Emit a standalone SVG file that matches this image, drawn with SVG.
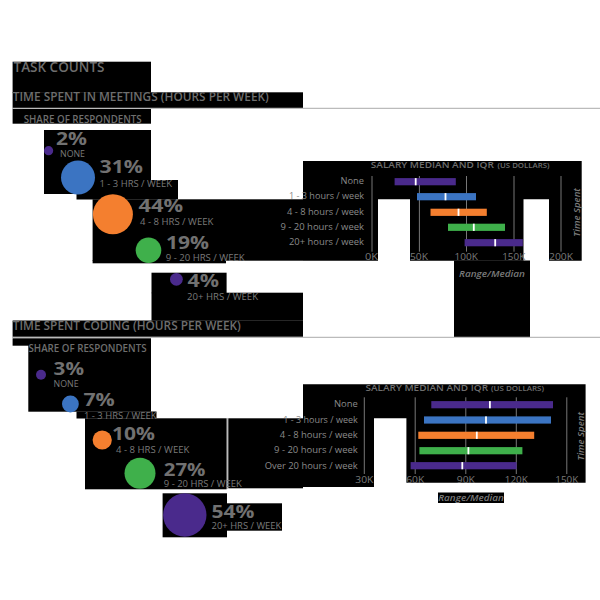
<svg xmlns="http://www.w3.org/2000/svg" width="600" height="600" viewBox="0 0 600 600">
<defs>
<style>
text{font-family:"Open Sans","Liberation Sans",sans-serif;}
.h{font-weight:600;fill:#6e6e6e;}
.pct{font-weight:700;fill:#717171;font-size:18.5px;}
.lbl{fill:#7a7a7a;font-size:9px;}
.row{fill:#8a8a8a;font-size:9.5px;text-anchor:end;}
.ax{fill:#7a7a7a;font-size:9.5px;text-anchor:middle;}
.ttl{fill:#6e6e6e;font-size:9.5px;font-weight:600;}
.sm{font-size:7px;}
.it{fill:#7a7a7a;font-size:9.5px;font-style:italic;font-weight:600;}
.grid{stroke:#777;stroke-width:1;}
.bk{fill:#000;}
.rule{stroke:#aaa;stroke-width:1;}
.med{fill:#fff;}
.p{fill:#4a2a8c;}.b{fill:#3b74c2;}.o{fill:#f47f2f;}.g{fill:#3fb04b;}
</style>
</defs>
<rect width="600" height="600" fill="#fff"/>
<g id="rules">
<line class="rule" x1="12" y1="108.3" x2="600" y2="108.3"/>
<line class="rule" x1="12" y1="337.3" x2="600" y2="337.3"/>
<line class="rule" x1="227.3" y1="418" x2="227.3" y2="489"/>
</g>
<g id="backdrops">
<rect class="bk" x="12.6" y="61.7" width="138.4" height="31"/>
<rect class="bk" x="12.6" y="92.3" width="290.4" height="15.5"/>
<rect class="bk" x="12.6" y="109" width="138.4" height="14.7"/>
<rect class="bk" x="44" y="130" width="107" height="64"/>
<rect class="bk" x="76.5" y="180" width="101.5" height="19.5"/>
<rect class="bk" x="92.6" y="199.3" width="210.4" height="61.4"/>
<rect class="bk" x="92.6" y="260" width="133.4" height="3.3"/>
<rect class="bk" x="151.5" y="272.7" width="75.1" height="20.5"/>
<rect class="bk" x="151.5" y="292.7" width="151.5" height="28"/>
<rect class="bk" x="12.6" y="320.5" width="290.4" height="16.2"/>
<path class="bk" d="M303 161 H581.7 V260.7 H549 V199.3 H523.5 V260.7 H410 V199.3 H378 V260.7 H303 Z"/>
<rect class="bk" x="454" y="260.5" width="76" height="76.3"/>
<rect class="bk" x="12.6" y="338.3" width="138.4" height="7.4"/>
<rect class="bk" x="28.3" y="345" width="122.7" height="66.7"/>
<rect class="bk" x="76.5" y="411.5" width="80" height="7"/>
<rect class="bk" x="85" y="418.3" width="141.6" height="71"/>
<rect class="bk" x="228.3" y="418.3" width="74.7" height="70"/>
<path class="bk" d="M303 384.3 H585.6 V482.7 H406.4 V418.3 H374 V487 H303 Z"/>
<rect class="bk" x="162.6" y="493.3" width="64.4" height="44"/>
<rect class="bk" x="227" y="503.3" width="55" height="27.4"/>
<rect class="bk" x="438" y="492.5" width="66" height="10.5"/>
</g>
<g id="headings">
<text class="h" x="13.5" y="71.7" font-size="14" textLength="91" lengthAdjust="spacingAndGlyphs">TASK COUNTS</text>
<text class="h" x="12.8" y="101" font-size="11.8" textLength="256" lengthAdjust="spacingAndGlyphs">TIME SPENT IN MEETINGS (HOURS PER WEEK)</text>
<text class="h" x="23.7" y="123" font-size="10" textLength="118" lengthAdjust="spacingAndGlyphs">SHARE OF RESPONDENTS</text>
<text class="h" x="12.8" y="330" font-size="11.8" textLength="228" lengthAdjust="spacingAndGlyphs">TIME SPENT CODING (HOURS PER WEEK)</text>
<text class="h" x="28.5" y="351.7" font-size="10" textLength="118" lengthAdjust="spacingAndGlyphs">SHARE OF RESPONDENTS</text>
</g>
<g id="meetings-share">
<g id="m-none"><circle class="p" cx="48.6" cy="150.7" r="4.6"/><text class="pct" x="56" y="145" textLength="31" lengthAdjust="spacingAndGlyphs">2%</text><text class="lbl" x="60" y="157.3" textLength="25" lengthAdjust="spacingAndGlyphs">NONE</text></g>
<g id="m-1-3"><circle class="b" cx="78" cy="177.5" r="17"/><text class="pct" x="99.5" y="173.3" textLength="43.5" lengthAdjust="spacingAndGlyphs">31%</text><text class="lbl" x="99.5" y="186.7" textLength="72.5" lengthAdjust="spacingAndGlyphs">1 - 3 HRS / WEEK</text></g>
<g id="m-4-8"><circle class="o" cx="112.9" cy="214.3" r="20"/><text class="pct" x="138.5" y="211.7" textLength="44.5" lengthAdjust="spacingAndGlyphs">44%</text><text class="lbl" x="140" y="225" textLength="73.4" lengthAdjust="spacingAndGlyphs">4 - 8 HRS / WEEK</text></g>
<g id="m-9-20"><circle class="g" cx="148.5" cy="250.3" r="12.8"/><text class="pct" x="166" y="249" textLength="43" lengthAdjust="spacingAndGlyphs">19%</text><text class="lbl" x="165.7" y="261" textLength="79" lengthAdjust="spacingAndGlyphs">9 - 20 HRS / WEEK</text></g>
<g id="m-20p"><circle class="p" cx="176.4" cy="279.3" r="6.4"/><text class="pct" x="187.5" y="287.3" textLength="31.5" lengthAdjust="spacingAndGlyphs">4%</text><text class="lbl" x="187" y="300" textLength="71" lengthAdjust="spacingAndGlyphs">20+ HRS / WEEK</text></g>
</g>
<g id="meetings-salary">
<text class="ttl" x="370.8" y="168.3" textLength="123" lengthAdjust="spacingAndGlyphs">SALARY MEDIAN AND IQR</text>
<text class="ttl sm" x="497.5" y="168.3" textLength="52" lengthAdjust="spacingAndGlyphs">(US DOLLARS)</text>
<g>
<line class="grid" x1="372" y1="176" x2="372" y2="251.7"/>
<line class="grid" x1="419.4" y1="176" x2="419.4" y2="251.7"/>
<line class="grid" x1="466.5" y1="176" x2="466.5" y2="251.7"/>
<line class="grid" x1="514" y1="176" x2="514" y2="251.7"/>
<line class="grid" x1="561" y1="176" x2="561" y2="251.7"/>
</g>
<text class="row" x="364" y="184" textLength="23.4" lengthAdjust="spacingAndGlyphs">None</text>
<text class="row" x="364" y="199.3" textLength="75" lengthAdjust="spacingAndGlyphs">1 - 3 hours / week</text>
<text class="row" x="364" y="214.7" textLength="77" lengthAdjust="spacingAndGlyphs">4 - 8 hours / week</text>
<text class="row" x="364" y="230" textLength="83.5" lengthAdjust="spacingAndGlyphs">9 - 20 hours / week</text>
<text class="row" x="364" y="245.3" textLength="75" lengthAdjust="spacingAndGlyphs">20+ hours / week</text>
<g id="mbar-none"><rect class="p" x="394.6" y="178.1" width="61.2" height="7.2"/><rect class="med" x="414.8" y="178.1" width="1.8" height="7.2"/></g>
<g id="mbar-1-3"><rect class="b" x="417" y="193.1" width="59" height="7.2"/><rect class="med" x="444.6" y="193.1" width="1.8" height="7.2"/></g>
<g id="mbar-4-8"><rect class="o" x="430.5" y="208.7" width="56.3" height="7.2"/><rect class="med" x="457.6" y="208.7" width="1.8" height="7.2"/></g>
<g id="mbar-9-20"><rect class="g" x="448" y="223.7" width="57" height="7.2"/><rect class="med" x="472.9" y="223.7" width="1.8" height="7.2"/></g>
<g id="mbar-20p"><rect class="p" x="464.6" y="239.1" width="58.2" height="7.2"/><rect class="med" x="494.3" y="239.1" width="1.8" height="7.2"/></g>
<text class="ax" x="371.5" y="260" textLength="13" lengthAdjust="spacingAndGlyphs">0K</text>
<text class="ax" x="419" y="260" textLength="18" lengthAdjust="spacingAndGlyphs">50K</text>
<text class="ax" x="466.3" y="260" textLength="23.4" lengthAdjust="spacingAndGlyphs">100K</text>
<text class="ax" x="513.7" y="260" textLength="23" lengthAdjust="spacingAndGlyphs">150K</text>
<text class="ax" x="561" y="260" textLength="24" lengthAdjust="spacingAndGlyphs">200K</text>
<text class="it" transform="translate(580.3 212.4) rotate(-90)" text-anchor="middle" textLength="48.5" lengthAdjust="spacingAndGlyphs">Time Spent</text>
<text class="it" x="459" y="277" textLength="66" lengthAdjust="spacingAndGlyphs">Range/Median</text>
</g>
<g id="coding-share">
<g id="c-none"><circle class="p" cx="41" cy="374.7" r="5"/><text class="pct" x="53.6" y="375" textLength="30.4" lengthAdjust="spacingAndGlyphs">3%</text><text class="lbl" x="53.6" y="386.7" textLength="25" lengthAdjust="spacingAndGlyphs">NONE</text></g>
<g id="c-1-3"><circle class="b" cx="70.4" cy="404" r="8.4"/><text class="pct" x="83.4" y="406" textLength="31.4" lengthAdjust="spacingAndGlyphs">7%</text><text class="lbl" x="84" y="419" textLength="72.6" lengthAdjust="spacingAndGlyphs">1 - 3 HRS / WEEK</text></g>
<g id="c-4-8"><circle class="o" cx="102.2" cy="440" r="9.6"/><text class="pct" x="112" y="440" textLength="43" lengthAdjust="spacingAndGlyphs">10%</text><text class="lbl" x="116" y="453.3" textLength="73.4" lengthAdjust="spacingAndGlyphs">4 - 8 HRS / WEEK</text></g>
<g id="c-9-20"><circle class="g" cx="140" cy="473.3" r="15.5"/><text class="pct" x="163.8" y="475.7" textLength="41.7" lengthAdjust="spacingAndGlyphs">27%</text><text class="lbl" x="163.8" y="487.3" textLength="78" lengthAdjust="spacingAndGlyphs">9 - 20 HRS / WEEK</text></g>
<g id="c-20p"><circle class="p" cx="184.8" cy="515" r="21.7"/><text class="pct" x="211.6" y="518.3" textLength="42.9" lengthAdjust="spacingAndGlyphs">54%</text><text class="lbl" x="211.6" y="529.3" textLength="69.7" lengthAdjust="spacingAndGlyphs">20+ HRS / WEEK</text></g>
</g>
<g id="coding-salary">
<text class="ttl" x="365.5" y="390.7" textLength="122.5" lengthAdjust="spacingAndGlyphs">SALARY MEDIAN AND IQR</text>
<text class="ttl sm" x="491" y="390.7" textLength="53" lengthAdjust="spacingAndGlyphs">(US DOLLARS)</text>
<g>
<line class="grid" x1="364.3" y1="397.3" x2="364.3" y2="474"/>
<line class="grid" x1="415.2" y1="397.3" x2="415.2" y2="474"/>
<line class="grid" x1="465.8" y1="397.3" x2="465.8" y2="474"/>
<line class="grid" x1="516.3" y1="397.3" x2="516.3" y2="474"/>
<line class="grid" x1="566.8" y1="397.3" x2="566.8" y2="474"/>
</g>
<text class="row" x="357.8" y="407.3" textLength="23.8" lengthAdjust="spacingAndGlyphs">None</text>
<text class="row" x="357.8" y="422.7" textLength="74.6" lengthAdjust="spacingAndGlyphs">1 - 3 hours / week</text>
<text class="row" x="357.8" y="438" textLength="78" lengthAdjust="spacingAndGlyphs">4 - 8 hours / week</text>
<text class="row" x="357.8" y="453.3" textLength="83.8" lengthAdjust="spacingAndGlyphs">9 - 20 hours / week</text>
<text class="row" x="357.8" y="468.7" textLength="93" lengthAdjust="spacingAndGlyphs">Over 20 hours / week</text>
<g id="cbar-none"><rect class="p" x="431.3" y="401.1" width="121.7" height="7.2"/><rect class="med" x="489" y="401.1" width="1.8" height="7.2"/></g>
<g id="cbar-1-3"><rect class="b" x="424" y="416.4" width="127" height="7.2"/><rect class="med" x="485.1" y="416.4" width="1.8" height="7.2"/></g>
<g id="cbar-4-8"><rect class="o" x="418.3" y="431.7" width="115.9" height="7.2"/><rect class="med" x="475.9" y="431.7" width="1.8" height="7.2"/></g>
<g id="cbar-9-20"><rect class="g" x="419.4" y="447.1" width="103" height="7.2"/><rect class="med" x="467.5" y="447.1" width="1.8" height="7.2"/></g>
<g id="cbar-20p"><rect class="p" x="410.6" y="462.1" width="106" height="7.2"/><rect class="med" x="461.4" y="462.1" width="1.8" height="7.2"/></g>
<text class="ax" x="364.3" y="483.3" textLength="18" lengthAdjust="spacingAndGlyphs">30K</text>
<text class="ax" x="415.2" y="483.3" textLength="18" lengthAdjust="spacingAndGlyphs">60K</text>
<text class="ax" x="465.8" y="483.3" textLength="18" lengthAdjust="spacingAndGlyphs">90K</text>
<text class="ax" x="516.3" y="483.3" textLength="23" lengthAdjust="spacingAndGlyphs">120K</text>
<text class="ax" x="566.8" y="483.3" textLength="23" lengthAdjust="spacingAndGlyphs">150K</text>
<text class="it" transform="translate(584 436.3) rotate(-90)" text-anchor="middle" textLength="48.5" lengthAdjust="spacingAndGlyphs">Time Spent</text>
<text class="it" x="438.2" y="500.5" textLength="65.8" lengthAdjust="spacingAndGlyphs">Range/Median</text>
</g>
<g id="connectors"></g>
</svg>
